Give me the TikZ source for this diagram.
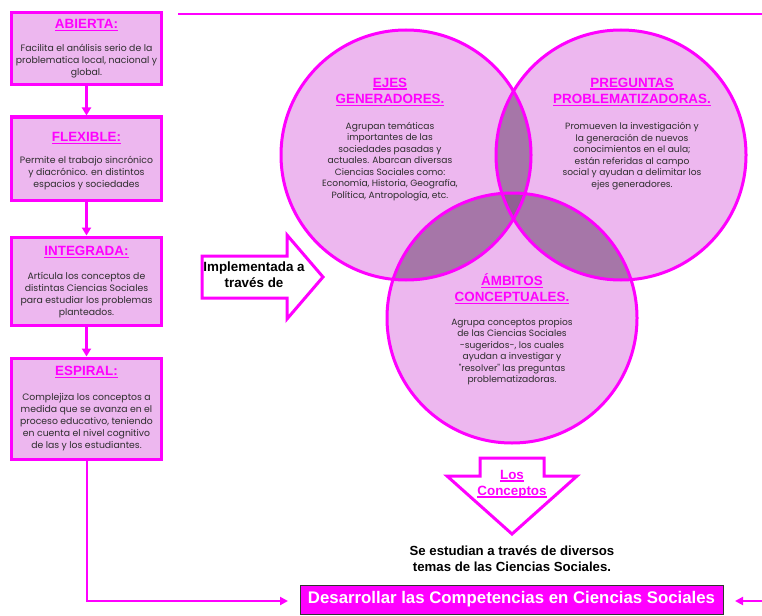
\documentclass[tikz,border=0pt]{standalone}
\usepackage{fontspec}
\setmainfont{Liberation Sans}
\newfontfamily\bodyfont{Poppins}
\usetikzlibrary{arrows.meta}
\definecolor{mag}{HTML}{FF00FF}
\definecolor{lightp}{HTML}{EDB7EF}
\definecolor{darkp}{HTML}{A676A8}
\definecolor{darkerp}{HTML}{916093}
\definecolor{txt}{HTML}{2E2E2E}
\newcommand\myul[1]{{\setbox0\hbox{#1}\rlap{\color{mag}\rule[-2.4pt]{\wd0}{1.2pt}}\box0}}
\begin{document}
\begin{tikzpicture}[x=1pt,y=-1pt,
  box/.style={draw=mag,line width=3pt,fill=lightp,minimum width=150pt,inner sep=0pt},
  btitle/.style={font=\bfseries\fontsize{13.4}{14}\selectfont,text=mag,inner sep=0pt},
  btext/.style={font=\bodyfont\fontsize{9.3}{12}\selectfont,text=txt,align=center,inner sep=0pt},
  ctitle/.style={font=\bfseries\fontsize{13.4}{16.5}\selectfont,text=mag,align=center,inner sep=0pt},
  ctext/.style={font=\bodyfont\fontsize{9.1}{11.5}\selectfont,text=txt,align=center,inner sep=0pt},
  conn/.style={draw=mag,line width=3pt,-{Triangle[length=8pt,width=9pt]}},
  thinconn/.style={draw=mag,line width=2pt,-{Triangle[length=8pt,width=8pt]}},
  bigarrow/.style={draw=mag,line width=3pt,fill=white,line join=miter},
  circfill/.style={fill=lightp},
  circline/.style={draw=mag,line width=3pt}
]
\path[use as bounding box] (0,0) rectangle (762,615);

% top line
\coordinate (tl1) at (178,14);
\coordinate (tl2) at (762,14);
\draw[mag,line width=2.5pt] (tl1) -- (tl2);

% left boxes
\node[box,minimum height=72pt] (b1) at (86.5,48.5) {};
\node[btitle] (t1) at (86.5,25) {\myul{ABIERTA:}};
\node[btext] (x1) at (86.5,61.5) {Facilita el análisis serio de la\\problematica local, nacional y\\global.};

\node[box,minimum height=83pt] (b2) at (86.5,158.5) {};
\node[btitle] (t2) at (86.5,138) {\myul{FLEXIBLE:}};
\node[btext] (x2) at (86.5,173) {Permite el trabajo sincrónico\\y diacrónico. en distintos\\espacios y sociedades};

\node[box,minimum height=88pt] (b3) at (86.5,281) {};
\node[btitle] (t3) at (86.5,252) {\myul{INTEGRADA:}};
\node[btext] (x3) at (86.5,295.5) {Artícula los conceptos de\\distintas Ciencias Sociales\\para estudiar los problemas\\planteados.};

\node[box,minimum height=101pt] (b4) at (86.5,408.5) {};
\node[btitle] (t4) at (86.5,372) {\myul{ESPIRAL:}};
\node[btext] (x4) at (86.5,422) {Complejiza los conceptos a\\medida que se avanza en el\\proceso educativo, teniendo\\en cuenta el nivel cognitivo\\de las y los estudiantes.};

\draw[conn] (b1.south) -- (b2.north);
\draw[conn] (b2.south) -- (b3.north);
\draw[conn] (b3.south) -- (b4.north);

% circles
\coordinate (cA) at (406,155);
\coordinate (cB) at (621,155);
\coordinate (cC) at (512,318);
\fill[circfill] (cA) circle (125pt);
\fill[circfill] (cB) circle (125pt);
\fill[circfill] (cC) circle (125pt);
\begin{scope}
  \clip (cA) circle (125pt);
  \fill[darkp] (cB) circle (125pt);
  \fill[darkp] (cC) circle (125pt);
\end{scope}
\begin{scope}
  \clip (cB) circle (125pt);
  \fill[darkp] (cC) circle (125pt);
\end{scope}
\begin{scope}
  \clip (cA) circle (125pt);
  \clip (cB) circle (125pt);
  \fill[darkerp] (cC) circle (125pt);
\end{scope}
\draw[circline] (cA) circle (125pt);
\draw[circline] (cB) circle (125pt);
\draw[circline] (cC) circle (125pt);

\node[ctitle] (ejt) at (390,92) {\myul{EJES}\\\myul{GENERADORES.}};
\node[ctext] (ejx) at (390,161.5) {Agrupan temáticas\\importantes de las\\sociedades pasadas y\\actuales. Abarcan diversas\\Ciencias Sociales como:\\Economía, Historia, Geografía,\\Política, Antropología, etc.};

\node[ctitle] (prt) at (632,92) {\myul{PREGUNTAS}\\\myul{PROBLEMATIZADORAS.}};
\node[ctext] (prx) at (632,156) {Promueven la investigación y\\la generación de nuevos\\conocimientos en el aula;\\están referidas al campo\\social y ayudan a delimitar los\\ejes generadores.};

\node[ctitle] (amt) at (512,289) {\myul{ÁMBITOS}\\\myul{CONCEPTUALES.}};
\node[ctext] (amx) at (512,351.5) {Agrupa conceptos propios\\de las Ciencias Sociales\\-sugeridos-, los cuales\\ayudan a investigar y\\"resolver" las preguntas\\problematizadoras.};

% implementada arrow
\draw[bigarrow] (202,256) -- (287,256) -- (287,235) -- (323,277) -- (287,319) -- (287,298) -- (202,298) -- cycle;
\node[font=\bfseries\fontsize{13.4}{16}\selectfont,align=center,inner sep=0pt] (impl) at (254,275) {Implementada a\\través de};

% los conceptos arrow
\draw[bigarrow] (480,458) -- (544,458) -- (544,476) -- (577,476) -- (512,534) -- (447,476) -- (480,476) -- cycle;
\node[font=\bfseries\fontsize{13.4}{16}\selectfont,text=mag,align=center,inner sep=0pt] (losc) at (512,484) {\myul{Los}\\\myul{Conceptos}};

\node[font=\bfseries\fontsize{13.2}{16}\selectfont,align=center,inner sep=0pt] (se) at (512,559) {Se estudian a través de diversos\\temas de las Ciencias Sociales.};

% goal box
\node[draw=black!80,line width=1pt,fill=mag,minimum width=423pt,minimum height=29pt,inner sep=0pt,
  font=\bfseries\fontsize{16.8}{18}\selectfont,text=white] (goal) at (511.5,599.5) {Desarrollar las Competencias en Ciencias Sociales};

\coordinate (lend) at (288,601);
\coordinate (rstart) at (762,601);
\coordinate (rend) at (735,601);
\draw[thinconn] (b4.south) |- (lend);
\draw[thinconn] (rstart) -- (rend);
\end{tikzpicture}
\end{document}
